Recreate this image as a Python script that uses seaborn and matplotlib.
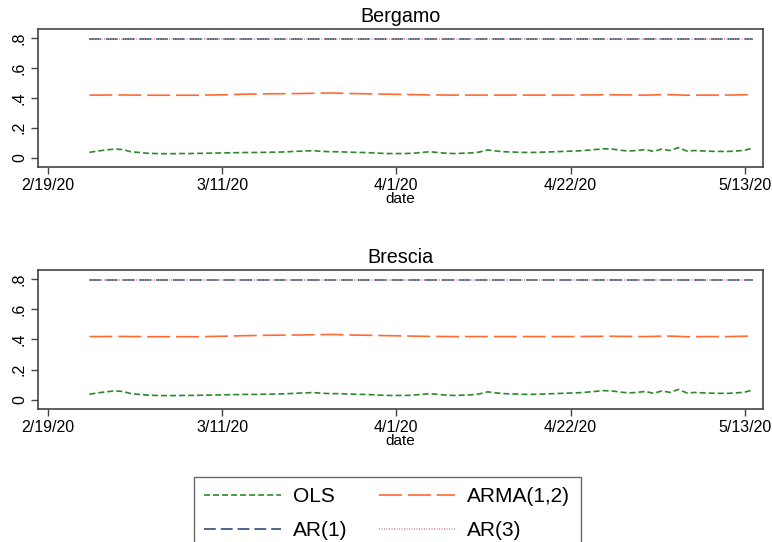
import pandas as pd
import numpy as np
import matplotlib
matplotlib.use("Agg")
import matplotlib.pyplot as plt
import seaborn as sns
from matplotlib.lines import Line2D

# data: daily estimates 2/24/20 - 5/14/20
start_date = "2020-02-24"
ols = [0.036, 0.045, 0.052, 0.058, 0.055, 0.040, 0.035, 0.030,
       0.028, 0.027, 0.027, 0.028, 0.028, 0.029, 0.030, 0.031,
       0.032, 0.033, 0.034, 0.035, 0.035, 0.036, 0.037, 0.038,
       0.040, 0.043, 0.045, 0.047, 0.043, 0.040, 0.040, 0.038,
       0.036, 0.035, 0.033, 0.030, 0.028, 0.028, 0.028, 0.030,
       0.035, 0.040, 0.035, 0.030, 0.028, 0.030, 0.032, 0.038,
       0.052, 0.045, 0.040, 0.038, 0.036, 0.035, 0.036, 0.038,
       0.040, 0.042, 0.044, 0.046, 0.050, 0.055, 0.060, 0.058,
       0.050, 0.045, 0.048, 0.055, 0.042, 0.058, 0.048, 0.068,
       0.045, 0.048, 0.045, 0.043, 0.042, 0.042, 0.045, 0.050,
       0.065]
arma = [0.419, 0.419, 0.419, 0.420, 0.420, 0.419, 0.419, 0.418,
        0.418, 0.418, 0.418, 0.418, 0.418, 0.418, 0.419, 0.420,
        0.421, 0.422, 0.424, 0.425, 0.426, 0.427, 0.428, 0.428,
        0.429, 0.429, 0.430, 0.431, 0.432, 0.433, 0.432, 0.430,
        0.429, 0.428, 0.427, 0.426, 0.425, 0.424, 0.423, 0.422,
        0.421, 0.420, 0.420, 0.419, 0.419, 0.419, 0.419, 0.419,
        0.419, 0.419, 0.419, 0.419, 0.419, 0.419, 0.419, 0.419,
        0.419, 0.419, 0.419, 0.419, 0.420, 0.420, 0.421, 0.421,
        0.420, 0.420, 0.419, 0.419, 0.420, 0.422, 0.422, 0.420,
        0.418, 0.418, 0.419, 0.419, 0.419, 0.419, 0.420, 0.421,
        0.423]
ar1 = [0.793] * 81
ar3 = [0.793] * 81

panels = ["Bergamo", "Brescia"]
models = ["OLS", "ARMA(1,2)", "AR(1)", "AR(3)"]
tick_dates = ["2020-02-19", "2020-03-11", "2020-04-01", "2020-04-22", "2020-05-13"]
tick_labels = ["2/19/20", "3/11/20", "4/1/20", "4/22/20", "5/13/20"]
ytick_vals = [0, 0.2, 0.4, 0.6, 0.8]
ytick_labels = ["0", ".2", ".4", ".6", ".8"]

dates = pd.date_range(start_date, periods=len(ols), freq="D")
rows = []
for p in panels:
    for m, vals in zip(models, [ols, arma, ar1, ar3]):
        rows.append(pd.DataFrame({"date": dates, "value": vals, "model": m, "panel": p}))
df = pd.concat(rows, ignore_index=True)

palette = {"OLS": "#2a8a2a", "ARMA(1,2)": "#ff6a33", "AR(1)": "#24507a", "AR(3)": "#e08a9a"}
dashes = {"OLS": (4.3, 2.2), "ARMA(1,2)": (16.5, 4.3), "AR(1)": (8.5, 3.6), "AR(3)": (0.7, 1.1)}

sns.set_style("white")
plt.rcParams["font.family"] = ["Liberation Sans", "DejaVu Sans"]
plt.rcParams["lines.scale_dashes"] = False
plt.rcParams["text.color"] = "black"
plt.rcParams["xtick.color"] = "black"
plt.rcParams["ytick.color"] = "black"
plt.rcParams["axes.labelcolor"] = "black"

fig = plt.figure(figsize=(7.72, 5.42), dpi=100)
W, H = 772, 542
boxes = [(38, 29, 763, 167), (38, 270, 763, 409)]

x0 = pd.Timestamp("2020-02-19")
for p, (l, t, r, b) in zip(panels, boxes):
    ax = fig.add_axes([l / W, 1 - b / H, (r - l) / W, (b - t) / H])
    sns.lineplot(data=df[df["panel"] == p], x="date", y="value", hue="model", style="model",
                 hue_order=models, style_order=models, palette=palette, dashes=dashes,
                 linewidth=1.2, legend=False, ax=ax)
    ax.set_xlim(x0 - pd.Timedelta(days=1.2), x0 + pd.Timedelta(days=86.2))
    ax.set_ylim(-0.062, 0.861)
    ax.set_xticks(pd.to_datetime(tick_dates))
    ax.set_xticklabels(tick_labels, fontsize=11.5)
    ax.set_yticks(ytick_vals)
    ax.set_yticklabels(ytick_labels, fontsize=11.5, rotation=90, va="center")
    ax.tick_params(axis="both", direction="out", length=5, width=1, color="#444444", pad=3,
                   bottom=True, left=True, labelcolor="black")
    ax.set_xlabel("date", fontsize=11, labelpad=-1)
    ax.set_ylabel("")
    ax.set_title(p, fontsize=14.2, pad=5)
    for s in ax.spines.values():
        s.set_color("#444444")
        s.set_linewidth(1.2)

handles = [Line2D([], [], color=palette[m], lw=1.2, dashes=dashes[m]) for m in models]
order = [0, 2, 1, 3]
leg = fig.legend([handles[i] for i in order], [models[i] for i in order], ncol=2,
                 loc="upper left", bbox_to_anchor=(194 / W, 1 - 477 / H), fontsize=15,
                 frameon=True, fancybox=False, edgecolor="#444444", handlelength=3.67,
                 handletextpad=0.58, columnspacing=1.5, labelspacing=0.69, borderpad=0.5,
                 borderaxespad=0)
leg.get_frame().set_linewidth(1.0)

fig.savefig("out.png", dpi=100)
